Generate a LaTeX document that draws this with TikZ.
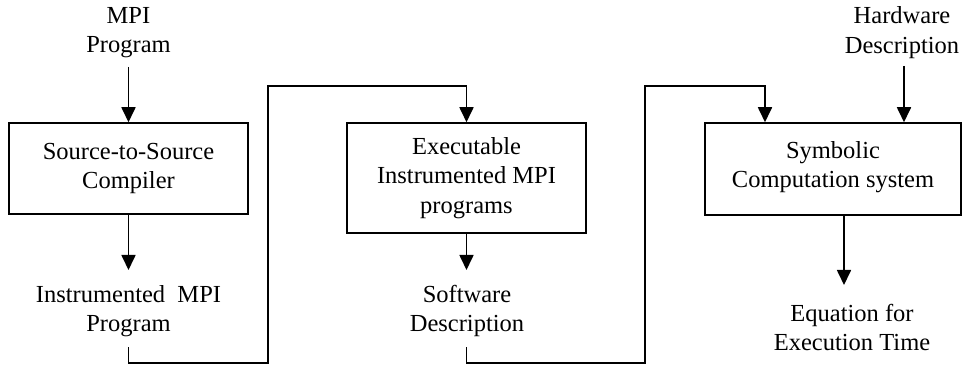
\documentclass[tikz,border=0pt]{standalone}
\usepackage{fontspec}
\setmainfont{Liberation Serif}
\usetikzlibrary{arrows.meta}
\newcommand\diafs{\fontsize{24.5}{29.5}\selectfont}
\tikzset{
  stepbox/.style={draw, line width=1.5pt, inner sep=0pt, align=center, font=\diafs},
  lbl/.style={inner sep=0pt, align=center, font=\diafs},
  arr/.style={line width=1.7pt, -{Triangle[width=14pt,length=15pt]}},
  wire/.style={line width=1.7pt}
}
\begin{document}
\begin{tikzpicture}[x=1pt,y=-1pt]
\useasboundingbox (0,0) rectangle (962,366);
% nodes
\node[lbl] (mpi) at (128.5,32.5) {MPI\\Program};
\node[stepbox, minimum width=239pt, minimum height=91pt] (b1) at (128.5,168.5) {Source-to-Source\\Compiler};
\node[lbl] (imp) at (128.5,311) {Instrumented\ \ MPI\\Program};
\node[stepbox, minimum width=239pt, minimum height=110pt] (b2) at (466.5,178) {Executable\\Instrumented MPI\\programs};
\node[lbl] (sw) at (467,311) {Software\\Description};
\node[stepbox, minimum width=256pt, minimum height=92pt, text depth=9pt] (b3) at (833,169) {Symbolic\\Computation system};
\node[lbl] (hw) at (902,32.5) {Hardware\\Description};
\node[lbl] (eq) at (852,327.5) {Equation for\\Execution Time};
% coordinates
\coordinate (a0) at (128.5,67);
\coordinate (a1) at (128.5,270);
\coordinate (c1s) at (128.5,347);
\coordinate (k1) at (268,363);
\coordinate (k2) at (268,86);
\coordinate (a2) at (466.5,270);
\coordinate (c2s) at (466.5,347);
\coordinate (k3) at (645,363);
\coordinate (k4) at (645,86);
\coordinate (h1) at (904,66);
\coordinate (o1) at (844,285);
% connectors
\draw[arr] (a0) -- (b1.north);
\draw[arr] (b1.south) -- (a1);
\draw[arr] (c1s) |- (k1) -- (k2) -| (b2.north);
\draw[arr] (b2.south) -- (a2);
\draw[arr] (c2s) |- (k3) -- (k4) -| ([xshift=-68pt]b3.north);
\draw[arr] (h1) -- (h1 |- b3.north);
\draw[arr] ([xshift=11pt]b3.south) -- (o1);
\end{tikzpicture}
\end{document}
